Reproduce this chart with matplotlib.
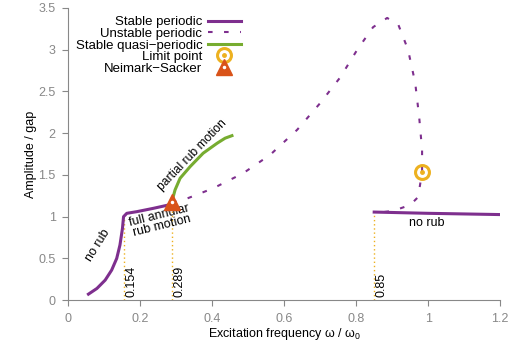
import numpy as np
import matplotlib
matplotlib.use("Agg")
import matplotlib.pyplot as plt
from matplotlib.legend_handler import HandlerTuple
from matplotlib.lines import Line2D

plt.rcParams["font.family"] = ["Liberation Sans", "DejaVu Sans"]
plt.rcParams["mathtext.fontset"] = "custom"
plt.rcParams["mathtext.rm"] = "Liberation Sans"
plt.rcParams["mathtext.it"] = "Liberation Sans:italic"

# Data
stable1_x = [0.0565, 0.080, 0.103, 0.121, 0.135, 0.144, 0.151, 0.154, 0.163, 0.191, 0.237, 0.279, 0.289]
stable1_y = [0.072, 0.14, 0.24, 0.36, 0.50, 0.66, 0.86, 1.00, 1.04, 1.06, 1.10, 1.14, 1.17]
quasi_x = [0.289, 0.292, 0.297, 0.311, 0.339, 0.375, 0.414, 0.436, 0.455]
quasi_y = [1.17, 1.24, 1.32, 1.46, 1.60, 1.76, 1.88, 1.94, 1.97]
unstable_x = [0.289, 0.32, 0.403, 0.486, 0.561, 0.636, 0.70, 0.756, 0.803, 0.847, 0.886,
              0.917, 0.944, 0.964, 0.975, 0.983, 0.983, 0.972, 0.95, 0.903, 0.858]
unstable_y = [1.17, 1.20, 1.34, 1.52, 1.74, 2.04, 2.36, 2.67, 3.00, 3.27, 3.38,
              3.30, 3.00, 2.60, 2.19, 1.80, 1.535, 1.235, 1.14, 1.07, 1.045]
stable2_x = [0.85, 1.0, 1.2]
stable2_y = [1.055, 1.04, 1.025]
limit_x, limit_y = [0.983], [1.535]
ns_x, ns_y = [0.289], [1.17]
vlines_x = [0.154, 0.289, 0.85]
vlines_top = [1.00, 1.17, 1.055]
vlines_lbl = ["0.154", "0.289", "0.85"]
xticks = [0, 0.2, 0.4, 0.6, 0.8, 1, 1.2]
yticks = [0, 0.5, 1, 1.5, 2, 2.5, 3, 3.5]

PURPLE = "#7E2F8E"
GREEN = "#77AC30"
YELLOW = "#EDB120"
ORANGE = "#D95319"
GRAY = "#888888"

fig = plt.figure(figsize=(5.12, 3.45), dpi=100)
ax = fig.add_axes([0.133, 0.130, 0.844, 0.847])

for xv, yt, lb in zip(vlines_x, vlines_top, vlines_lbl):
    ax.plot([xv, xv], [0, yt], color=YELLOW, lw=1, ls=(0, (1, 2)), zorder=1)
    ax.text(xv + 0.005, 0.04, lb, rotation=90, ha="left", va="bottom", fontsize=9)

ax.plot(unstable_x, unstable_y, color=PURPLE, lw=1.5, ls=(0, (2.2, 5.5)), zorder=2)
ax.plot(stable1_x, stable1_y, color=PURPLE, lw=2.2, zorder=3)
ax.plot(stable2_x, stable2_y, color=PURPLE, lw=2.2, zorder=3)
ax.plot(quasi_x, quasi_y, color=GREEN, lw=2.2, zorder=3)

ax.plot(limit_x, limit_y, marker="o", ms=10, mfc="none", mec=YELLOW, mew=2.2, ls="none", zorder=5)
ax.plot(limit_x, limit_y, marker="o", ms=2.5, color=YELLOW, ls="none", zorder=5)
ax.plot(ns_x, ns_y, marker="^", ms=11, color=ORANGE, ls="none", zorder=5)
ax.plot(ns_x, ns_y, marker="o", ms=1.5, color="white", ls="none", zorder=6)

ax.text(0.083, 0.66, "no rub", rotation=58, ha="center", va="center", fontsize=9)
ax.text(0.257, 0.95, "full annular\nrub motion", rotation=14, ha="center", va="center",
        fontsize=9, linespacing=0.75)
ax.text(0.345, 1.74, "partial rub motion", rotation=46, ha="center", va="center", fontsize=8.7)
ax.text(0.995, 0.93, "no rub", ha="center", va="center", fontsize=9)

ax.set_xlim(0, 1.2)
ax.set_ylim(0, 3.5)
ax.set_xticks(xticks)
ax.set_xticklabels(["0", "0.2", "0.4", "0.6", "0.8", "1", "1.2"])
ax.set_yticks(yticks)
ax.set_yticklabels(["0", "0.5", "1", "1.5", "2", "2.5", "3", "3.5"])
for s in ["top", "right"]:
    ax.spines[s].set_visible(False)
for s in ["left", "bottom"]:
    ax.spines[s].set_color(GRAY)
ax.tick_params(colors=GRAY, labelsize=9, length=4, direction="out")
ax.tick_params(axis="x", pad=5)
ax.tick_params(axis="y", pad=5)
ax.set_xlabel("Excitation frequency ω / ω$_0$", fontsize=9, labelpad=1)
ax.set_ylabel("Amplitude / gap", fontsize=9)
ax.yaxis.set_label_coords(-0.073, 0.5)

h1 = Line2D([], [], color=PURPLE, lw=2.2)
h2 = Line2D([], [], color=PURPLE, lw=1.5, ls=(0, (2.2, 5.5)))
h3 = Line2D([], [], color=GREEN, lw=2.2)
h4a = Line2D([], [], marker="o", ms=10, mfc="none", mec=YELLOW, mew=2.2, ls="none")
h4b = Line2D([], [], marker="o", ms=2.5, color=YELLOW, ls="none")
h5a = Line2D([], [], marker="^", ms=11, color=ORANGE, ls="none")
h5b = Line2D([], [], marker="o", ms=1.5, color="white", ls="none")
leg = ax.legend([h1, h2, h3, (h4a, h4b), (h5a, h5b)],
                ["Stable periodic", "Unstable periodic", "Stable quasi\u2212periodic",
                 "Limit point", "Neimark\u2212Sacker"],
                handler_map={tuple: HandlerTuple(ndivide=1, pad=0)},
                markerfirst=False, frameon=False, fontsize=9.5, loc="upper left",
                bbox_to_anchor=(0.005, 0.99), handlelength=2.5, handletextpad=0.4,
                labelspacing=-0.05, borderaxespad=0.0)
for t in leg.get_texts():
    t.set_ha("right")
leg._legend_box.align = "right"

fig.savefig("out.png", dpi=100)
